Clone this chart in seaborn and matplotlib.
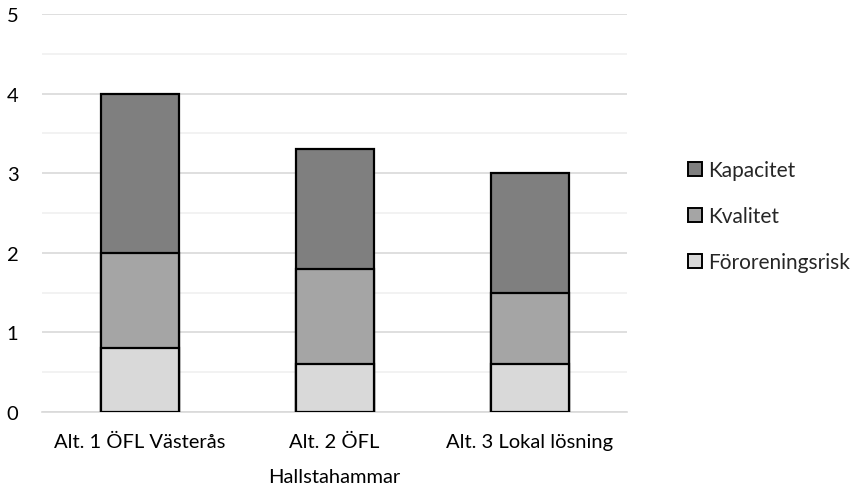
import matplotlib
matplotlib.use("Agg")
import matplotlib.pyplot as plt
from matplotlib.patches import Patch
import seaborn as sns
import pandas as pd
import numpy as np

categories = ["Alt. 1 ÖFL Västerås", "Alt. 2 ÖFL\nHallstahammar", "Alt. 3 Lokal lösning"]
series_names = ["Föroreningsrisk", "Kvalitet", "Kapacitet"]
fororeningsrisk = [0.8, 0.6, 0.6]
kvalitet = [1.2, 1.2, 0.9]
kapacitet = [2.0, 1.5, 1.5]
colors = ["#d9d9d9", "#a5a5a5", "#7f7f7f"]

sns.set_theme(style="white")
plt.rcParams["font.family"] = ["Lato", "DejaVu Sans"]

fig = plt.figure(figsize=(8.59, 4.85), dpi=100)
ax = fig.add_axes([42 / 859, 1 - 413 / 485, 585 / 859, 398 / 485])

layers = [fororeningsrisk, kvalitet, kapacitet]
cum = np.cumsum(np.array(layers), axis=0)

# draw cumulative totals from the tallest down so each segment shows its own layer
for i in reversed(range(len(layers))):
    df = pd.DataFrame({"cat": categories, "val": cum[i]})
    sns.barplot(data=df, x="cat", y="val", order=categories, color=colors[i],
                width=0.4, edgecolor="black", linewidth=1.6, saturation=1,
                ax=ax, zorder=3)

ax.set_ylim(0, 5)
ax.set_xlim(-0.5, 2.5)
ax.set_yticks(range(0, 6))
ax.set_yticks(np.arange(0.5, 5, 1.0), minor=True)
ax.grid(axis="y", which="major", color="#d9d9d9", linewidth=1.2, zorder=0)
ax.grid(axis="y", which="minor", color="#f0f0f0", linewidth=1.2, zorder=0)
ax.set_axisbelow(True)
for s in ["top", "right", "left"]:
    ax.spines[s].set_visible(False)
ax.spines["bottom"].set_color("#d9d9d9")
ax.spines["bottom"].set_linewidth(1.2)
ax.set_xlabel("")
ax.set_ylabel("")
ax.tick_params(axis="y", which="both", length=0, pad=17, labelsize=14.5, labelcolor="black")
ax.tick_params(axis="x", length=0, pad=15, labelsize=14.5, labelcolor="black")
for lab in ax.get_xticklabels():
    lab.set_linespacing(2.3)

handles = [Patch(facecolor=colors[i], edgecolor="black", linewidth=1.4, label=series_names[i])
           for i in reversed(range(3))]
fig.legend(handles=handles, loc="center left", bbox_to_anchor=(688 / 859, 1 - 217 / 485),
           frameon=False, fontsize=15, handlelength=0.65, handleheight=0.65,
           handletextpad=0.3, labelspacing=1.25, borderpad=0, borderaxespad=0)

fig.savefig("out.png", dpi=100)
